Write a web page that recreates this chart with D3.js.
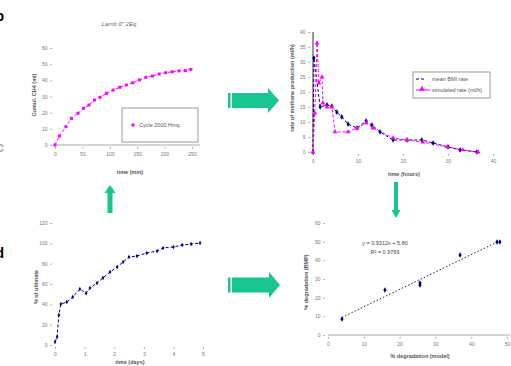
<!DOCTYPE html>
<html>
<head>
<meta charset="utf-8">
<script src="https://cdn.jsdelivr.net/npm/d3@7"></script>
<style>
  body { margin: 0; background: #fff; }
  svg { display: block; font-family: Arial, "Liberation Sans", sans-serif; }
</style>
</head>
<body>
<svg id="chart" width="511" height="366"></svg>
<script>
// panel b: cumulative gas curve
const cumTime = [0, 8, 20, 30, 42, 52, 62, 72, 82, 94, 106, 118, 130, 142, 154, 166, 178, 190, 202, 214, 226, 238, 248];
const cumGas = [0, 5.6, 11.3, 16.5, 19.6, 22.7, 24.7, 27.8, 29.5, 32, 34, 35.7, 37.1, 38.5, 40.2, 41.9, 42.7, 43.9, 44.7, 45.3, 45.8, 46, 46.8];

// panel top-right: two rate series
const rateTimeA = [0, 0.2, 1.6, 3.1, 4.2, 5.3, 6.4, 7.8, 9.8, 11.8, 13.1, 14.9, 17.8, 20.9, 24.2, 26.7, 30, 32.7, 36.4];
const rateA = [0, 31.3, 15, 15.7, 15.3, 13.3, 11.7, 9.3, 8, 10.3, 9, 6.7, 4, 4, 4, 3, 1.7, 0.7, 0];
const rateTimeB = [0, 0.4, 0.9, 1.3, 2, 2.2, 3.1, 4.2, 4.9, 7.8, 9.8, 11.8, 13.3, 17.8, 20.9, 24.4, 29.8, 33.3, 36.7];
const rateB = [0, 13, 36.3, 23, 25, 16.3, 15, 15, 6.7, 6.7, 8, 9.7, 8, 4.7, 4, 3.3, 1.7, 0.7, 0];

// panel d: degradation curve
const degTime = [0, 0.07, 0.13, 0.2, 0.4, 0.6, 0.84, 1.05, 1.18, 1.42, 1.62, 1.86, 2.1, 2.3, 2.5, 2.77, 3.1, 3.45, 3.65, 4.0, 4.3, 4.6, 4.9];
const degPct = [3, 7.9, 29.5, 40.3, 42.3, 47.2, 55, 51, 56, 61, 66, 71.8, 76.7, 81.6, 86.6, 87.5, 90.5, 92.5, 95.4, 96.4, 98.4, 99.3, 100.3];

// panel bottom-right: model vs measured
const modelX = [3.9, 15.9, 25.7, 25.7, 36.9, 47.2, 48];
const measY = [8.6, 24.1, 27.9, 26.8, 42.9, 49.8, 49.8];

const labels = ["b", "c", "d"];

const svg = d3.select("#chart");
const magenta = "#ff00ff";
const navy = "#000080";
const teal = "#18c490";
const tickGrey = "#777";

function axisStyle(g) {
  g.select(".domain").remove();
  g.selectAll("line").attr("stroke", "#999");
  g.selectAll("text").attr("fill", tickGrey).attr("font-size", 5);
}

function addAxes(x, y, xTicks, yTicks, xFmt, yFmt) {
  const [, y0] = y.range();
  svg.append("g")
    .attr("transform", `translate(0,${y.range()[0] + 2})`)
    .call(d3.axisBottom(x).tickValues(xTicks).tickSize(1.5).tickPadding(4).tickFormat(xFmt || d3.format("d")))
    .call(axisStyle);
  svg.append("g")
    .attr("transform", `translate(${x.range()[0] - 3},0)`)
    .call(d3.axisLeft(y).tickValues(yTicks).tickSize(1.5).tickPadding(3).tickFormat(yFmt || d3.format("d")))
    .call(axisStyle);
}

function axisTitle(x, y, text, rotate) {
  svg.append("text")
    .attr("transform", `translate(${x},${y})` + (rotate ? " rotate(-90)" : ""))
    .attr("text-anchor", "middle")
    .attr("font-size", 5.5)
    .attr("font-weight", "bold")
    .attr("fill", "#555")
    .text(text);
}

function dashedLine(x, y, xs, ys, color) {
  svg.append("path")
    .datum(xs.map((d, i) => [d, ys[i]]))
    .attr("fill", "none")
    .attr("stroke", color)
    .attr("stroke-width", 1)
    .attr("stroke-dasharray", "3,2")
    .attr("d", d3.line().x(d => x(d[0])).y(d => y(d[1])));
}

// ---------- panel b ----------
{
  const x = d3.scaleLinear().domain([0, 250]).range([55, 192]);
  const y = d3.scaleLinear().domain([0, 60]).range([145, 48]);
  addAxes(x, y, d3.range(0, 251, 50), d3.range(0, 61, 10));
  svg.append("line")
    .attr("x1", x(0)).attr("x2", 200)
    .attr("y1", y(0)).attr("y2", y(0))
    .attr("stroke", "#aaa").attr("stroke-width", 1);
  dashedLine(x, y, cumTime, cumGas, magenta);
  svg.append("g").selectAll("rect")
    .data(cumTime)
    .join("rect")
    .attr("x", (d) => x(d) - 1.5)
    .attr("y", (d, i) => y(cumGas[i]) - 1.5)
    .attr("width", 3).attr("height", 3)
    .attr("fill", magenta);
  svg.append("text").attr("x", 119).attr("y", 26)
    .attr("text-anchor", "middle").attr("font-size", 6).attr("font-style", "italic")
    .attr("fill", "#666").text("Lamb 0\" 2Eq");
  axisTitle(130, 174, "time (min)");
  axisTitle(36, 95, "Cumul. CH4 (ml)", true);
  // legend
  svg.append("rect").attr("x", 122).attr("y", 108).attr("width", 76).attr("height", 34)
    .attr("fill", "#fff").attr("stroke", "#999").attr("stroke-width", 1);
  svg.append("rect").attr("x", 131.5).attr("y", 123.5).attr("width", 3).attr("height", 3).attr("fill", magenta);
  svg.append("text").attr("x", 139).attr("y", 127).attr("font-size", 5.5).attr("fill", "#555").text("Cycle 2000 Hmq");
}

// ---------- panel top-right ----------
{
  const x = d3.scaleLinear().domain([0, 40]).range([313, 493]);
  const y = d3.scaleLinear().domain([0, 40]).range([152, 32]);
  addAxes(x, y, d3.range(0, 41, 10), d3.range(0, 41, 5));
  svg.append("line")
    .attr("x1", x(0)).attr("x2", x(0))
    .attr("y1", y(0)).attr("y2", y(40))
    .attr("stroke", "#333").attr("stroke-width", 1);
  dashedLine(x, y, rateTimeA, rateA, navy);
  dashedLine(x, y, rateTimeB, rateB, magenta);
  svg.append("g").selectAll("path")
    .data(rateTimeA)
    .join("path")
    .attr("transform", (d, i) => `translate(${x(d)},${y(rateA[i])})`)
    .attr("d", d3.symbol(d3.symbolDiamond, 9))
    .attr("fill", navy);
  svg.append("g").selectAll("path")
    .data(rateTimeB)
    .join("path")
    .attr("transform", (d, i) => `translate(${x(d)},${y(rateB[i])})`)
    .attr("d", d3.symbol(d3.symbolTriangle, 10))
    .attr("fill", magenta);
  axisTitle(404, 176, "time (hours)");
  axisTitle(294, 88, "rate of methane production (ml/h)", true);
  // legend
  svg.append("rect").attr("x", 413).attr("y", 72).attr("width", 77).attr("height", 26)
    .attr("fill", "#fff").attr("stroke", "#999").attr("stroke-width", 1);
  svg.append("line").attr("x1", 416).attr("x2", 426).attr("y1", 79).attr("y2", 79)
    .attr("stroke", navy).attr("stroke-dasharray", "3,2");
  svg.append("line").attr("x1", 416).attr("x2", 430).attr("y1", 90).attr("y2", 90)
    .attr("stroke", magenta).attr("stroke-width", 1);
  svg.append("path").attr("transform", "translate(422,89)")
    .attr("d", d3.symbol(d3.symbolTriangle, 14)).attr("fill", magenta);
  svg.append("text").attr("x", 432).attr("y", 81).attr("font-size", 5.5).attr("fill", "#555").text("mean BMI rate");
  svg.append("text").attr("x", 432).attr("y", 92).attr("font-size", 5.5).attr("fill", "#555").text("simulated rate (ml/h)");
}

// ---------- panel d ----------
{
  const x = d3.scaleLinear().domain([0, 5]).range([55, 203]);
  const y = d3.scaleLinear().domain([0, 120]).range([345, 223]);
  addAxes(x, y, d3.range(0, 6, 1), d3.range(0, 121, 20));
  dashedLine(x, y, degTime, degPct, navy);
  svg.append("g").selectAll("path")
    .data(degTime)
    .join("path")
    .attr("transform", (d, i) => `translate(${x(d)},${y(degPct[i])})`)
    .attr("d", d3.symbol(d3.symbolDiamond, 6))
    .attr("fill", navy);
  axisTitle(130, 364, "time (days)");
  axisTitle(38, 287, "% of ultimate", true);
}

// ---------- panel bottom-right ----------
{
  const x = d3.scaleLinear().domain([0, 50]).range([328, 507]);
  const y = d3.scaleLinear().domain([0, 60]).range([335, 223]);
  addAxes(x, y, d3.range(0, 51, 10), d3.range(0, 61, 10));
  svg.append("line")
    .attr("x1", x(0)).attr("x2", 510)
    .attr("y1", y(0)).attr("y2", y(0))
    .attr("stroke", "#aaa").attr("stroke-width", 1);
  const fit = d3.least([0], () => 0);
  const n = modelX.length;
  const mx = d3.mean(modelX), my = d3.mean(measY);
  const slope = d3.sum(modelX, (d, i) => (d - mx) * (measY[i] - my)) / d3.sum(modelX, (d) => (d - mx) ** 2);
  const icpt = my - slope * mx;
  const ssTot = d3.sum(measY, (d) => (d - my) ** 2);
  const ssRes = d3.sum(modelX, (d, i) => (measY[i] - (slope * d + icpt)) ** 2);
  const r2 = 1 - ssRes / ssTot;
  const x0 = d3.min(modelX), x1 = d3.max(modelX);
  svg.append("line")
    .attr("x1", x(x0)).attr("y1", y(slope * x0 + icpt))
    .attr("x2", x(x1)).attr("y2", y(slope * x1 + icpt))
    .attr("stroke", "#222").attr("stroke-width", 1).attr("stroke-dasharray", "1.5,2");
  svg.append("g").selectAll("path")
    .data(modelX)
    .join("path")
    .attr("transform", (d, i) => `translate(${x(d)},${y(measY[i])})`)
    .attr("d", d3.symbol(d3.symbolDiamond, 9))
    .attr("fill", navy);
  svg.append("text").attr("x", 385).attr("y", 245).attr("text-anchor", "middle")
    .attr("font-size", 5.5).attr("fill", "#444")
    .text(`y = ${slope.toFixed(4)}x + ${icpt.toFixed(2)}`);
  svg.append("text").attr("x", 385).attr("y", 254).attr("text-anchor", "middle")
    .attr("font-size", 5.5).attr("fill", "#444")
    .text(`R² = ${r2.toFixed(4)}`);
  axisTitle(420, 358, "% degradation (model)");
  axisTitle(308, 282, "% degradation (BMP)", true);
}

// ---------- arrows ----------
function hArrow(x0, yc, len, body, head) {
  const g = svg.append("g").attr("fill", teal);
  g.append("rect").attr("x", x0).attr("y", yc - body / 2).attr("width", 2.5).attr("height", body);
  g.append("rect").attr("x", x0 + 4).attr("y", yc - body / 2).attr("width", len - 14).attr("height", body);
  const hx = x0 + len - 11;
  g.append("path").attr("d", `M${hx},${yc - head / 2}L${x0 + len},${yc}L${hx},${yc + head / 2}Z`);
}
function vArrow(xc, yTail, yTip, body, head, hl) {
  const g = svg.append("g").attr("fill", teal);
  const dir = yTip < yTail ? -1 : 1;
  const yh = yTip - dir * hl;
  g.append("rect").attr("x", xc - body / 2).attr("y", Math.min(yTail, yh)).attr("width", body).attr("height", Math.abs(yTail - yh));
  g.append("path").attr("d", `M${xc - head / 2},${yh}L${xc},${yTip}L${xc + head / 2},${yh}Z`);
}
hArrow(228, 100.5, 51, 15, 25);
hArrow(228, 285, 52, 15, 26);
vArrow(110, 213, 185, 5, 11, 8);
vArrow(396, 182, 218, 4, 9, 8);

// panel letters, cut by the left edge
svg.selectAll(".panel-letter")
  .data(labels)
  .join("text")
  .attr("class", "panel-letter")
  .attr("x", 4)
  .attr("y", (d, i) => [21, 152, 258][i])
  .attr("text-anchor", "end")
  .attr("font-size", 14)
  .attr("font-weight", "bold")
  .attr("fill", (d) => (d === "c" ? "#aaa" : "#000"))
  .text((d) => d);
</script>
</body>
</html>
